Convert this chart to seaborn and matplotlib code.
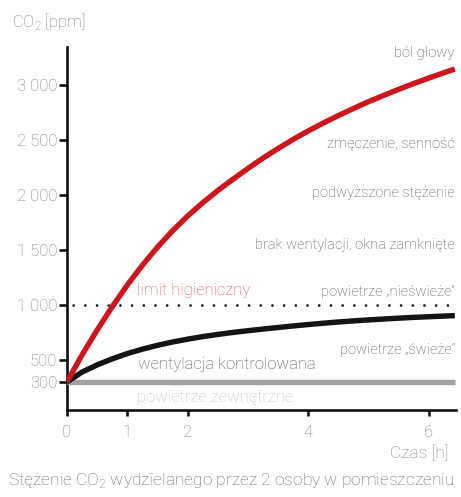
import matplotlib
matplotlib.use("Agg")
import matplotlib.pyplot as plt
import seaborn as sns
import pandas as pd

# --- data ---
hours = [0, 0.25, 0.5, 0.75, 1.0, 1.25, 1.5, 1.75, 2.0, 2.25, 2.5, 2.75, 3.0, 3.25,
         3.5, 3.75, 4.0, 4.25, 4.5, 4.75, 5.0, 5.25, 5.5, 5.75, 6.0, 6.25, 6.43]
no_ventilation = [300, 546, 772, 984, 1181, 1361, 1525, 1674, 1808, 1929, 2040, 2142, 2241, 2335,
                  2422, 2505, 2582, 2654, 2722, 2786, 2848, 2905, 2960, 3013, 3063, 3111, 3145]
controlled_ventilation = [300, 390, 455, 510, 558, 598, 633, 663, 689, 712, 732, 750, 766, 781,
                          795, 809, 822, 834, 845, 855, 864, 872, 880, 887, 893, 899, 903]
outdoor_air = [300] * len(hours)
hygiene_limit_x = [0, 6.45]
hygiene_limit = [1000, 1000]

y_ticks = [300, 500, 1000, 1500, 2000, 2500, 3000]
y_tick_labels = ["300", "500", "1 000", "1 500", "2 000", "2 500", "3 000"]
x_ticks = [0, 1, 2, 4, 6]
x_tick_labels = ["0", "1", "2", "4", "6"]

zone_labels = ["ból głowy", "zmęczenie, senność", "podwyższone stężenie",
               "brak wentylacji, okna zamknięte", "powietrze „nieświeże”", "powietrze „świeże”"]
zone_label_y = [3291, 2473, 2018, 1545, 1118, 591]

sns.set_theme(style="white")
plt.rcParams["font.family"] = ["Roboto", "DejaVu Sans"]
plt.rcParams["font.weight"] = "light"

fig = plt.figure(figsize=(4.61, 4.97), dpi=100)
ax = fig.add_axes([67 / 461, 1 - 410 / 497, (456 - 67) / 461, (410 - 47) / 497])

df = pd.DataFrame({"t": hours, "red": no_ventilation, "black": controlled_ventilation, "gray": outdoor_air})

sns.lineplot(x=hygiene_limit_x, y=hygiene_limit, ax=ax, color="#1a1a1a", linewidth=2.0,
             linestyle=(2.0, (0.01, 4.2)), dash_capstyle="round", zorder=2)
sns.lineplot(data=df, x="t", y="gray", ax=ax, color="#a2a2a2", linewidth=3.9,
             solid_capstyle="butt", zorder=3)
sns.lineplot(data=df, x="t", y="black", ax=ax, color="#141414", linewidth=3.9,
             solid_capstyle="butt", solid_joinstyle="round", zorder=4)
sns.lineplot(data=df, x="t", y="red", ax=ax, color="#cf151b", linewidth=3.9,
             solid_capstyle="butt", solid_joinstyle="round", zorder=5)

ax.set_xlim(0, 6.45)
ax.set_ylim(45, 3345)
ax.set_xlabel("")
ax.set_ylabel("")

for s in ["top", "right"]:
    ax.spines[s].set_visible(False)
for s in ["left", "bottom"]:
    ax.spines[s].set_color("#111111")
    ax.spines[s].set_linewidth(1.9)

ax.set_yticks(y_ticks)
ax.set_yticklabels(y_tick_labels)
ax.set_xticks(x_ticks)
ax.set_xticklabels(x_tick_labels)
ax.tick_params(axis="y", direction="out", length=6.0, width=1.9, color="#111111",
               labelsize=12, labelcolor="#7d7d7d", pad=1.2, left=True)
ax.tick_params(axis="x", direction="out", length=4.5, width=1.9, color="#111111",
               labelsize=12, labelcolor="#7d7d7d", pad=6.5, bottom=True)

for lab, yv in zip(zone_labels, zone_label_y):
    ax.text(0.997, yv, lab, transform=ax.get_yaxis_transform(), ha="right", va="center",
            fontsize=10.5, color="#555555")

ax.text(1.16, 1127, "limit higieniczny", ha="left", va="center", fontsize=12, color="#e0555b")
ax.text(1.17, 455, "wentylacja kontrolowana", ha="left", va="center", fontsize=12, color="#555555")
ax.text(1.16, 155, "powietrze zewnętrzne", ha="left", va="center", fontsize=12, color="#c4c4c4")

fig.text(12 / 461, 1 - 21 / 497, "CO$_\\mathregular{2}$ [ppm]", ha="left", va="center",
         fontsize=12, color="#7d7d7d")
fig.text(448 / 461, 1 - 453 / 497, "Czas [h]", ha="right", va="center", fontsize=12.5, color="#7d7d7d")
fig.text(231 / 461, 1 - 481 / 497, "Stężenie CO$_\\mathregular{2}$ wydzielanego przez 2 osoby w pomieszczeniu",
         ha="center", va="center", fontsize=12.5, color="#6a6a6a")

fig.savefig("out.png", dpi=100)
